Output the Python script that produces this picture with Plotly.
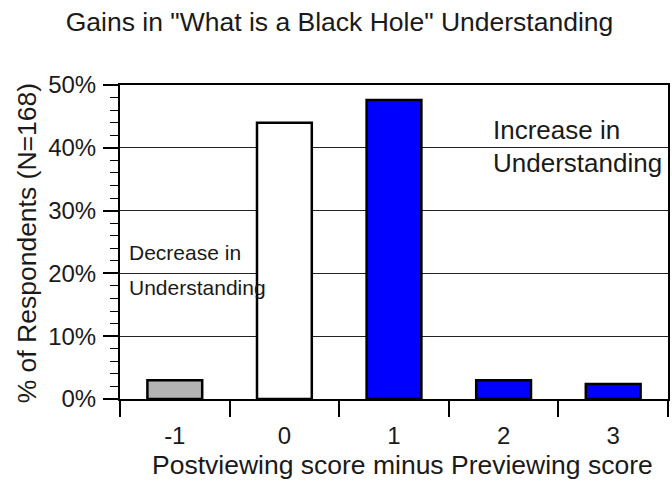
import plotly.graph_objects as go

categories = ["-1", "0", "1", "2", "3"]
percent_respondents = [3.0, 44.0, 47.6, 3.0, 2.4]
bar_colors = ["#b4b4b4", "#ffffff", "#0000ff", "#0000ff", "#0000ff"]
y_tick_values = [0, 10, 20, 30, 40, 50]
y_tick_labels = ["0%", "10%", "20%", "30%", "40%", "50%"]

FONT = "Liberation Sans, Arial, sans-serif"
TXT = "#1a1a1a"

W, H = 672, 485
PLOT_LEFT, PLOT_TOP, PLOT_RIGHT, PLOT_BOTTOM = 120, 85, 670, 399  # page pixels
L = PLOT_LEFT
T = PLOT_TOP
pw = PLOT_RIGHT - PLOT_LEFT
ph = PLOT_BOTTOM - PLOT_TOP
R = W - L - pw
B = H - T - ph


def px_x(p):  # page x pixel -> paper x
    return (p - PLOT_LEFT) / pw


def px_y(p):  # page y pixel -> paper y
    return (PLOT_BOTTOM - p) / ph


fig = go.Figure(
    go.Bar(
        x=categories,
        y=percent_respondents,
        width=0.5,
        marker=dict(color=bar_colors, line=dict(color="black", width=2.5)),
        showlegend=False,
    )
)

fig.update_layout(
    width=W,
    height=H,
    margin=dict(l=L, r=R, t=T, b=B),
    paper_bgcolor="white",
    plot_bgcolor="white",
    font=dict(family=FONT, color=TXT, size=24),
    title=dict(
        text='Gains in "What is a Black Hole" Understanding',
        x=339.5 / W,
        xanchor="center",
        xref="container",
        y=1 - 22 / H,
        yanchor="middle",
        yref="container",
        font=dict(size=26.5, family=FONT, color=TXT),
    ),
)

fig.update_xaxes(
    type="category",
    tickson="boundaries",
    ticks="outside",
    ticklen=16,
    tickwidth=1.5,
    tickcolor="black",
    showline=True,
    linecolor="black",
    linewidth=2,
    mirror=True,
    showgrid=False,
    tickfont=dict(size=24, family=FONT, color=TXT),
    ticklabelstandoff=14,
)

fig.update_yaxes(
    range=[0, 50],
    tickvals=y_tick_values,
    ticktext=y_tick_labels,
    ticks="outside",
    ticklen=15,
    tickwidth=1.5,
    tickcolor="black",
    minor=dict(ticks="outside", ticklen=8, dtick=2, tickcolor="black", tickwidth=1.2, showgrid=False),
    showline=True,
    linecolor="black",
    linewidth=2,
    mirror=True,
    showgrid=True,
    gridcolor="#222222",
    gridwidth=1,
    zeroline=False,
    tickfont=dict(size=24, family=FONT, color=TXT),
    ticklabelstandoff=2,
)

annotations = [
    dict(text="Postviewing score minus Previewing score", xref="paper", yref="paper",
         x=px_x(403.5), y=px_y(465), xanchor="center", yanchor="middle",
         showarrow=False, font=dict(size=26.5, family=FONT, color=TXT)),
    dict(text="% of Respondents (N=168)", xref="paper", yref="paper",
         x=px_x(27), y=px_y(243), xanchor="center", yanchor="middle",
         textangle=-90, showarrow=False, font=dict(size=26.5, family=FONT, color=TXT)),
    dict(text="Increase in", xref="paper", yref="paper",
         x=px_x(492), y=px_y(130), xanchor="left", yanchor="middle",
         showarrow=False, font=dict(size=26, family=FONT, color=TXT)),
    dict(text="Understanding", xref="paper", yref="paper",
         x=px_x(492), y=px_y(163), xanchor="left", yanchor="middle",
         showarrow=False, font=dict(size=26, family=FONT, color=TXT)),
    dict(text="Decrease in", xref="paper", yref="paper",
         x=px_x(127), y=px_y(252), xanchor="left", yanchor="middle",
         showarrow=False, font=dict(size=21, family=FONT, color=TXT)),
    dict(text="Understanding", xref="paper", yref="paper",
         x=px_x(127), y=px_y(287), xanchor="left", yanchor="middle",
         showarrow=False, font=dict(size=21, family=FONT, color=TXT)),
]
fig.update_layout(annotations=annotations)

# offset-style axis extensions (left of y-axis, below x-axis)
fig.add_shape(type="line", xref="paper", yref="paper", x0=-17 / pw, x1=0, y0=0, y1=0,
              line=dict(color="black", width=2))
fig.add_shape(type="line", xref="paper", yref="paper", x0=0, x1=0, y0=-17 / ph, y1=0,
              line=dict(color="black", width=2))

# let the figure fill the window exactly (no page margin, no scrollbars, no modebar)
fig.write_html(
    "out.html",
    config={"displayModeBar": False},
    post_script="document.body.style.margin='0';document.body.style.overflow='hidden';",
)
